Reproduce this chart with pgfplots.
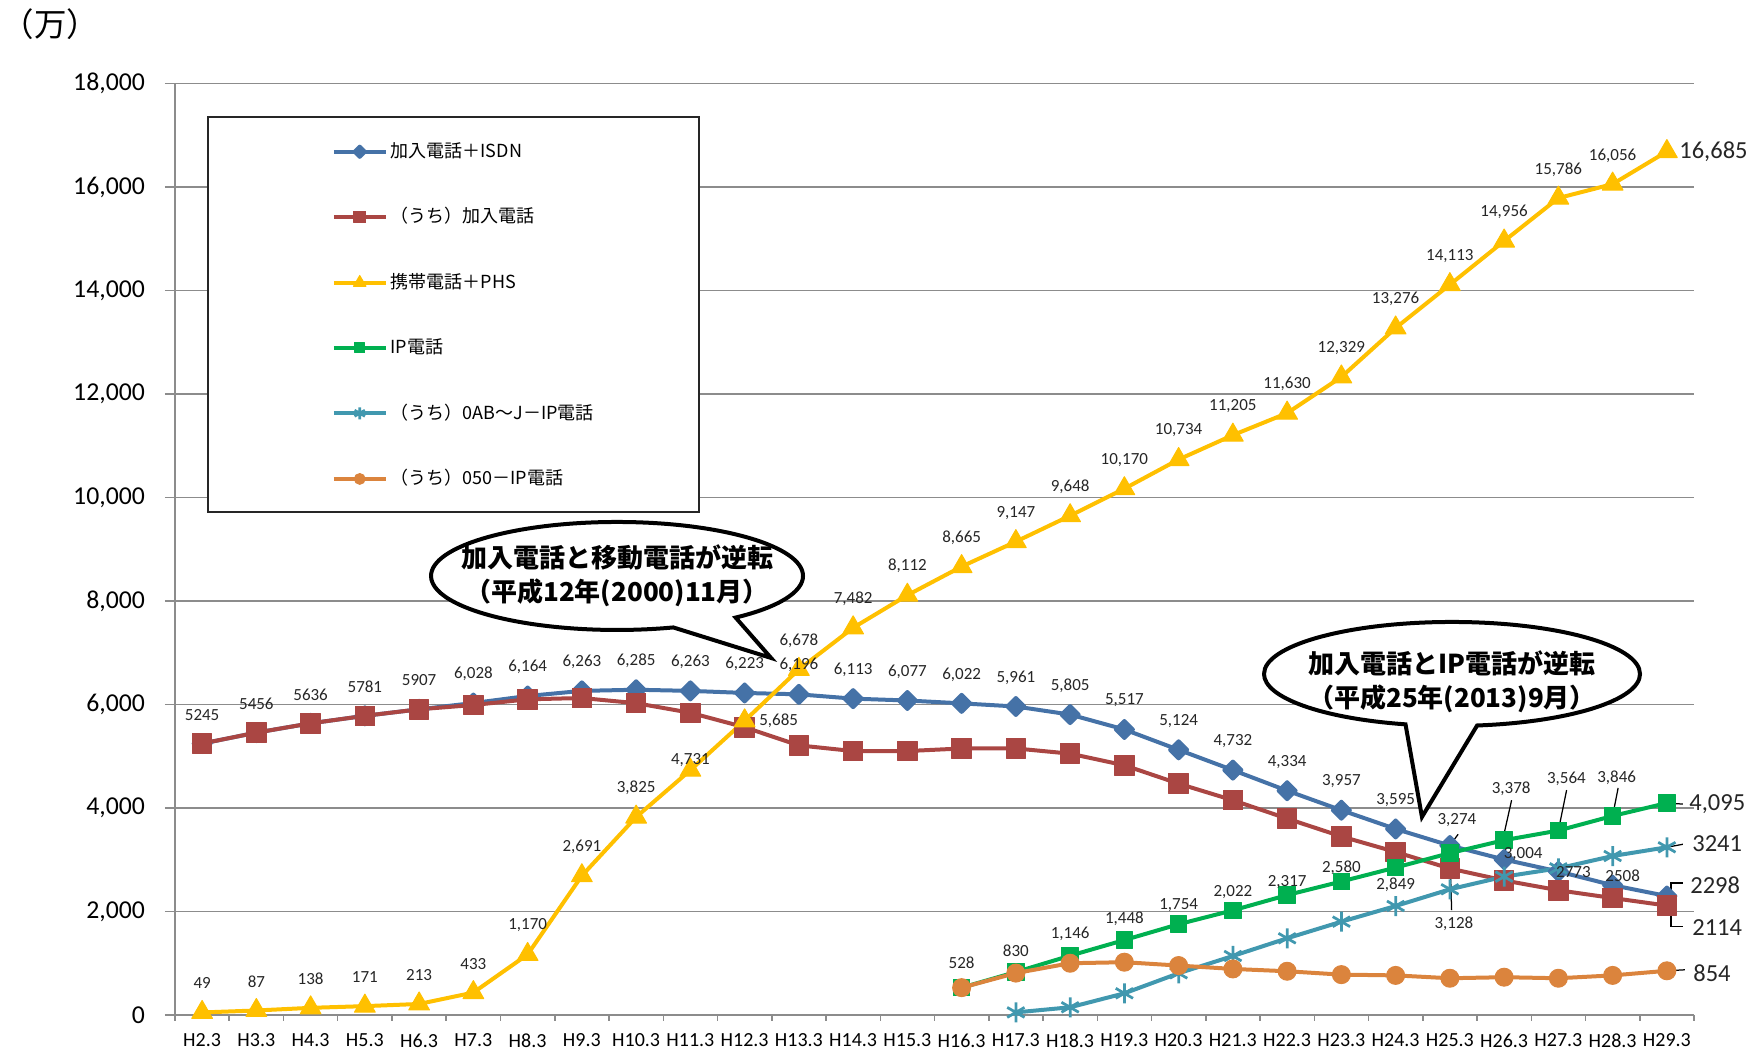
\documentclass[border=0pt]{standalone}
\usepackage{fontspec}
\setmainfont{Carlito}
\newfontfamily\jp{Noto Sans CJK JP}
\usepackage{pgfplots}
\pgfplotsset{compat=1.18}
\usepackage{pgfplotstable}
\usetikzlibrary{shapes.callouts}

\definecolor{cBlue}{HTML}{4572A7}
\definecolor{cRed}{HTML}{AA4643}
\definecolor{cYel}{HTML}{FFC000}
\definecolor{cGrn}{HTML}{00B050}
\definecolor{cCyan}{HTML}{4198AF}
\definecolor{cOra}{HTML}{DB843D}
\definecolor{cGrid}{HTML}{8C8C8C}

\pgfplotstableread{
x y
0 5245
1 5456
2 5636
3 5781
4 5907
5 6028
6 6164
7 6263
8 6285
9 6263
10 6223
11 6196
12 6113
13 6077
14 6022
15 5961
16 5805
17 5517
18 5124
19 4732
20 4334
21 3957
22 3595
23 3274
24 3004
25 2773
26 2508
27 2298
}\tblBlue

\pgfplotstableread{
x y
0 5245
1 5456
2 5636
3 5781
4 5907
5 5990
6 6100
7 6125
8 6025
9 5840
10 5560
11 5210
12 5100
13 5100
14 5150
15 5150
16 5050
17 4825
18 4470
19 4150
20 3795
21 3450
22 3150
23 2830
24 2600
25 2410
26 2260
27 2114
}\tblRed

\pgfplotstableread{
x y
0 49
1 87
2 138
3 171
4 213
5 433
6 1170
7 2691
8 3825
9 4731
10 5685
11 6678
12 7482
13 8112
14 8665
15 9147
16 9648
17 10170
18 10734
19 11205
20 11630
21 12329
22 13276
23 14113
24 14956
25 15786
26 16056
27 16685
}\tblYel

\pgfplotstableread{
x y
14 528
15 830
16 1146
17 1448
18 1754
19 2022
20 2317
21 2580
22 2849
23 3128
24 3378
25 3564
26 3846
27 4095
}\tblGrn

\pgfplotstableread{
x y
15 50
16 149
17 419
18 806
19 1140
20 1482
21 1803
22 2106
23 2429
24 2673
25 2834
26 3072
27 3241
}\tblCyan

\pgfplotstableread{
x y
14 528
15 810
16 1000
17 1020
18 955
19 890
20 845
21 780
22 765
23 710
24 730
25 710
26 765
27 854
}\tblOra

% label tables: dx, dy in pixels of the reference (dy up)
\pgfplotstableread{
x y lab dx dy
0 5245 5245 0 29
1 5456 5456 0 29
2 5636 5636 0 29
3 5781 5781 0 29
4 5907 5907 0 29
5 6028 6,028 0 29
6 6164 6,164 0 29
7 6263 6,263 0 29
8 6285 6,285 0 29
9 6263 6,263 0 29
10 6223 6,223 0 29
11 6196 6,196 0 29
12 6113 6,113 0 29
13 6077 6,077 0 29
14 6022 6,022 0 29
15 5961 5,961 0 29
16 5805 5,805 0 29
17 5517 5,517 0 29
18 5124 5,124 0 29
19 4732 4,732 0 29
20 4334 4,334 0 29
21 3957 3,957 0 29
22 3595 3,595 0 29
23 3274 3,274 7 25
24 3004 3,004 19 5
25 2773 2773 15 -1
26 2508 2508 10 9
}\lblBlue

\pgfplotstableread{
x y lab dx dy
0 49 49 0 29
1 87 87 0 29
2 138 138 0 29
3 171 171 0 29
4 213 213 0 29
5 433 433 0 29
6 1170 1,170 0 29
7 2691 2,691 0 29
8 3825 3,825 0 29
9 4731 4,731 0 10
10 5685 5,685 34 0
11 6678 6,678 0 29
12 7482 7,482 0 29
13 8112 8,112 0 29
14 8665 8,665 0 29
15 9147 9,147 0 29
16 9648 9,648 0 29
17 10170 10,170 0 29
18 10734 10,734 0 29
19 11205 11,205 0 29
20 11630 11,630 0 29
21 12329 12,329 0 29
22 13276 13,276 0 29
23 14113 14,113 0 29
24 14956 14,956 0 29
25 15786 15,786 0 28
26 16056 16,056 0 28
}\lblYel

\pgfplotstableread{
x y lab dx dy
14 528 528 0 25
15 830 830 0 21
16 1146 1,146 0 22
17 1448 1,448 0 21
18 1754 1,754 0 19
19 2022 2,022 0 18
20 2317 2,317 0 13
21 2580 2,580 0 14
22 2849 2,849 0 -17
23 3128 3,128 4 -71
24 3378 3,378 7 51
25 3564 3,564 8 52
26 3846 3,846 4 38
}\lblGrn

\pgfplotstableread{
x y lab dx dy
27 16685 16,685 12 0
27 4095 4,095 22 -1
27 3241 3241 25 4
27 2298 2298 23 11
27 2114 2114 25 -22
27 854 854 26 -2
}\lblEnd

\pgfplotsset{
  lbl/.style={draw=none, forget plot, nodes near coords, point meta=explicit symbolic,
    visualization depends on={\thisrow{dx}\as\dx},
    visualization depends on={\thisrow{dy}\as\dy},
    nodes near coords style={anchor=center, inner sep=0pt, text=black!85,
      font=\fontsize{6.8}{7.5}\selectfont, xshift={\dx*0.4pt}, yshift={\dy*0.4pt}}},
  ser/.style={line width=1.6pt, line join=round, color=#1, mark options={solid, fill=#1, draw=#1, line width=0.4pt}},
}

\begin{document}
\begin{tikzpicture}
\useasboundingbox (-70pt,-13.6pt) rectangle (629.6pt,406pt);
\begin{axis}[
  at={(0,0)}, anchor=south west, scale only axis,
  width=607.6pt, height=372.6pt,
  xmin=-0.5, xmax=27.5, ymin=0, ymax=18000,
  clip=false,
  axis lines=left, axis line style={-, draw=cGrid, line width=0.6pt},
  ytick={0,2000,...,18000}, ymajorgrids,
  grid style={draw=cGrid, line width=0.6pt},
  scaled y ticks=false,
  /pgf/number format/assume math mode=true,
  yticklabel style={font=\fontsize{10.3}{12}\selectfont, /pgf/number format/1000 sep={,}, xshift=-4.5pt},
  xtick={0,...,27},
  xticklabels={H2.3,H3.3,H4.3,H5.3,H6.3,H7.3,H8.3,H9.3,H10.3,H11.3,H12.3,H13.3,H14.3,H15.3,H16.3,H17.3,H18.3,H19.3,H20.3,H21.3,H22.3,H23.3,H24.3,H25.3,H26.3,H27.3,H28.3,H29.3},
  xticklabel style={font=\fontsize{8}{9}\selectfont},
  major x tick style={draw=none},
  minor xtick={-0.5,0.5,...,27.5},
  minor tick length=2.4pt, major tick length=4pt,
  tick align=outside,
  tick style={draw=cGrid, line width=0.6pt},
  legend cell align=left,
  legend style={draw=none, fill=none, at={(0.098,0.948)}, anchor=north west,
    font=\jp\fontsize{7.2}{8}\selectfont, row sep=14.6pt, nodes={inner xsep=1.2pt}},
  legend image code/.code={\draw[mark repeat=2, mark phase=2] plot coordinates {(0pt,0pt) (10.35pt,0pt) (20.7pt,0pt)};},
  legend image post style={/tikz/every mark/.append style={scale=0.6}},
]
% legend frame
\draw[draw=black!85, line width=0.6pt, fill=white] (rel axis cs:0.0217,0.964) rectangle (rel axis cs:0.345,0.540);

\addplot[ser=cBlue, mark=square*, mark size=2.4pt, mark options={rotate=45}] table[x=x,y=y] {\tblBlue};
\addplot[ser=cRed, mark=square*, mark size=3.9pt] table[x=x,y=y] {\tblRed};
\addplot[ser=cYel, mark=triangle*, mark size=4.8pt] table[x=x,y=y] {\tblYel};
\addplot[ser=cGrn, mark=square*, mark size=3.3pt] table[x=x,y=y] {\tblGrn};
\addplot[ser=cCyan, mark=asterisk, mark size=4pt, mark options={line width=1.1pt}] table[x=x,y=y] {\tblCyan};
\addplot[ser=cOra, mark=*, mark size=3.6pt] table[x=x,y=y] {\tblOra};
\legend{加入電話＋ISDN,（うち）加入電話,携帯電話＋PHS,IP電話,（うち）0AB～J－IP電話,（うち）050－IP電話}

% data labels
\addplot[lbl] table[x=x,y=y,meta=lab] {\lblBlue};
\addplot[lbl] table[x=x,y=y,meta=lab] {\lblYel};
\addplot[lbl] table[x=x,y=y,meta=lab] {\lblGrn};
\addplot[lbl, nodes near coords style={anchor=west, font=\fontsize{9.8}{11}\selectfont}] table[x=x,y=y,meta=lab] {\lblEnd};

% leader lines
\begin{scope}[line width=0.5pt, black]
\draw ([shift={(3.3pt,4.5pt)}]axis cs:23,3274) -- (axis cs:23,3274);
\draw ([shift={(0.7pt,-22.8pt)}]axis cs:23,3128) -- ([shift={(0pt,1.2pt)}]axis cs:23,3128);
\draw ([shift={(3pt,16pt)}]axis cs:24,3378) -- ([shift={(-0.4pt,0.9pt)}]axis cs:24,3378);
\draw ([shift={(3.3pt,16.2pt)}]axis cs:25,3564) -- (axis cs:25,3564);
\draw ([shift={(2.2pt,11.2pt)}]axis cs:26,3846) -- (axis cs:26,3846);
\draw (axis cs:27,4095) -- ([shift={(6.4pt,-0.4pt)}]axis cs:27,4095);
\draw (axis cs:27,3241) -- ([shift={(6.4pt,1.2pt)}]axis cs:27,3241);
\draw ([shift={(1.6pt,1.2pt)}]axis cs:27,2298) -- ([shift={(1.6pt,5.2pt)}]axis cs:27,2298) -- ([shift={(6.4pt,5.2pt)}]axis cs:27,2298);
\draw ([shift={(1.6pt,-3.2pt)}]axis cs:27,2114) -- ([shift={(1.6pt,-8.4pt)}]axis cs:27,2114) -- ([shift={(6.4pt,-8.4pt)}]axis cs:27,2114);
\draw (axis cs:27,854) -- ([shift={(7.2pt,0.4pt)}]axis cs:27,854);
\end{scope}

% callouts
\node[ellipse callout, draw=black, fill=white, line width=1.6pt,
  minimum width=148.8pt, minimum height=43.2pt, inner sep=0pt,
  callout absolute pointer={(rel axis cs:0.3924,0.3833)}, callout pointer arc=22]
  at (rel axis cs:0.291,0.4713) {};
\node[inner sep=0pt, align=center, font=\jp\bfseries\fontsize{10.4}{13.5}\selectfont]
  at (rel axis cs:0.291,0.4713) {加入電話と移動電話が逆転\\（平成12年(2000)11月）};
\node[ellipse callout, draw=black, fill=white, line width=1.6pt,
  minimum width=150.4pt, minimum height=41.6pt, inner sep=0pt,
  callout absolute pointer={(rel axis cs:0.8209,0.2126)}, callout pointer arc=22]
  at (rel axis cs:0.8407,0.3661) {};
\node[inner sep=0pt, align=center, font=\jp\bfseries\fontsize{10.4}{13.5}\selectfont]
  at (rel axis cs:0.8407,0.358) {加入電話とIP電話が逆転\\（平成25年(2013)9月）};

% unit label
\node[anchor=west, inner sep=0pt, font=\jp\fontsize{13}{15}\selectfont]
  at (rel axis cs:-0.1145,1.0635) {（万）};
\end{axis}
\end{tikzpicture}
\end{document}
